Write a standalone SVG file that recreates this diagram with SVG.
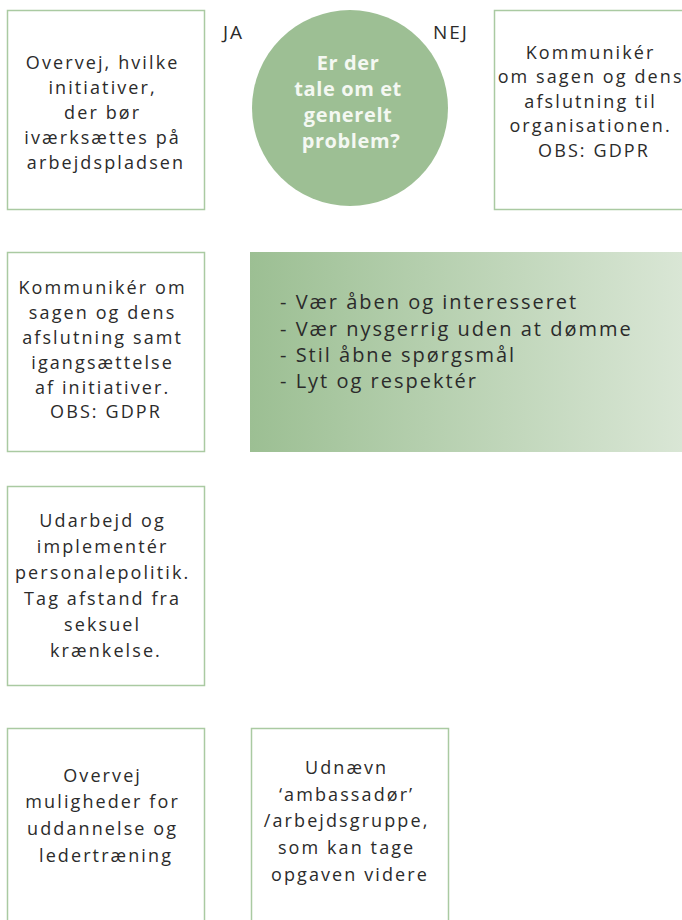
<svg xmlns="http://www.w3.org/2000/svg" width="682" height="920" viewBox="0 0 682 920">
  <defs>
    <linearGradient id="tipsFill" x1="0" y1="0" x2="1" y2="0">
      <stop offset="0" stop-color="#9cbf93"/>
      <stop offset="1" stop-color="#d9e6d5"/>
    </linearGradient>
  </defs>
  <style>
    .box { fill: #ffffff; stroke: #aacaa2; stroke-width: 1.5; }
    .txt { font-family: "Open Sans", "Liberation Sans", sans-serif; font-size: 18px; letter-spacing: 2.1px; fill: #2b2b2b; text-anchor: middle; }
    .lbl { font-family: "Open Sans", "Liberation Sans", sans-serif; font-size: 19px; letter-spacing: 2px; fill: #2b2b2b; }
    .q { font-family: "Open Sans", "Liberation Sans", sans-serif; font-size: 20px; font-weight: 700; letter-spacing: 0.6px; fill: #f4f8f2; text-anchor: middle; }
    .tip { font-family: "Open Sans", "Liberation Sans", sans-serif; font-size: 20px; letter-spacing: 2px; fill: #2b2b2b; }
  </style>

  <!-- row 1 -->
  <g id="node-overvej-initiativer">
    <rect class="box" x="7.5" y="10.5" width="197" height="199"/>
    <text class="txt">
      <tspan x="106" y="69">Overvej, hvilke</tspan>
      <tspan x="106" y="94">initiativer,</tspan>
      <tspan x="106" y="119">der bør</tspan>
      <tspan x="106" y="144">iværksættes på</tspan>
      <tspan x="106" y="169">arbejdspladsen</tspan>
    </text>
  </g>

  <g id="node-question">
    <circle cx="350" cy="108" r="98" fill="#9dbf94"/>
    <text class="q">
      <tspan x="351" y="70">Er der</tspan>
      <tspan x="351" y="96">tale om et</tspan>
      <tspan x="351" y="122">generelt</tspan>
      <tspan x="351" y="148">problem?</tspan>
    </text>
  </g>

  <g id="connectors">
    <text class="lbl" x="223" y="39">JA</text>
    <text class="lbl" x="433" y="39">NEJ</text>
  </g>

  <g id="node-kommuniker-organisation">
    <rect class="box" x="494.5" y="10.5" width="198" height="199"/>
    <text class="txt">
      <tspan x="594" y="59">Kommunikér</tspan>
      <tspan x="594" y="83">om sagen og dens</tspan>
      <tspan x="594" y="108">afslutning til</tspan>
      <tspan x="594" y="132">organisationen.</tspan>
      <tspan x="594" y="157">OBS: GDPR</tspan>
    </text>
  </g>

  <!-- row 2 -->
  <g id="node-kommuniker-initiativer">
    <rect class="box" x="7.5" y="252.5" width="197" height="199"/>
    <text class="txt">
      <tspan x="106" y="294">Kommunikér om</tspan>
      <tspan x="106" y="319">sagen og dens</tspan>
      <tspan x="106" y="344">afslutning samt</tspan>
      <tspan x="106" y="369">igangsættelse</tspan>
      <tspan x="106" y="394">af initiativer.</tspan>
      <tspan x="106" y="418">OBS: GDPR</tspan>
    </text>
  </g>

  <g id="node-tips">
    <rect x="250" y="252" width="432" height="200" fill="url(#tipsFill)"/>
    <text class="tip">
      <tspan x="280" y="309">- Vær åben og interesseret</tspan>
      <tspan x="280" y="336">- Vær nysgerrig uden at dømme</tspan>
      <tspan x="280" y="362">- Stil åbne spørgsmål</tspan>
      <tspan x="280" y="388">- Lyt og respektér</tspan>
    </text>
  </g>

  <!-- row 3 -->
  <g id="node-personalepolitik">
    <rect class="box" x="7.5" y="486.5" width="197" height="199"/>
    <text class="txt">
      <tspan x="106" y="527">Udarbejd og</tspan>
      <tspan x="106" y="553">implementér</tspan>
      <tspan x="106" y="579">personalepolitik.</tspan>
      <tspan x="106" y="605">Tag afstand fra</tspan>
      <tspan x="106" y="631">seksuel</tspan>
      <tspan x="106" y="657">krænkelse.</tspan>
    </text>
  </g>

  <!-- row 4 -->
  <g id="node-uddannelse">
    <rect class="box" x="7.5" y="728.5" width="197" height="210"/>
    <text class="txt">
      <tspan x="106" y="782">Overvej</tspan>
      <tspan x="106" y="808">muligheder for</tspan>
      <tspan x="106" y="835">uddannelse og</tspan>
      <tspan x="106" y="862">ledertræning</tspan>
    </text>
  </g>

  <g id="node-ambassador">
    <rect class="box" x="251.5" y="728.5" width="197" height="210"/>
    <text class="txt">
      <tspan x="350" y="774">Udnævn</tspan>
      <tspan x="350" y="801">‘ambassadør’</tspan>
      <tspan x="350" y="827">/arbejdsgruppe,</tspan>
      <tspan x="350" y="854">som kan tage</tspan>
      <tspan x="350" y="881">opgaven videre</tspan>
    </text>
  </g>
</svg>
